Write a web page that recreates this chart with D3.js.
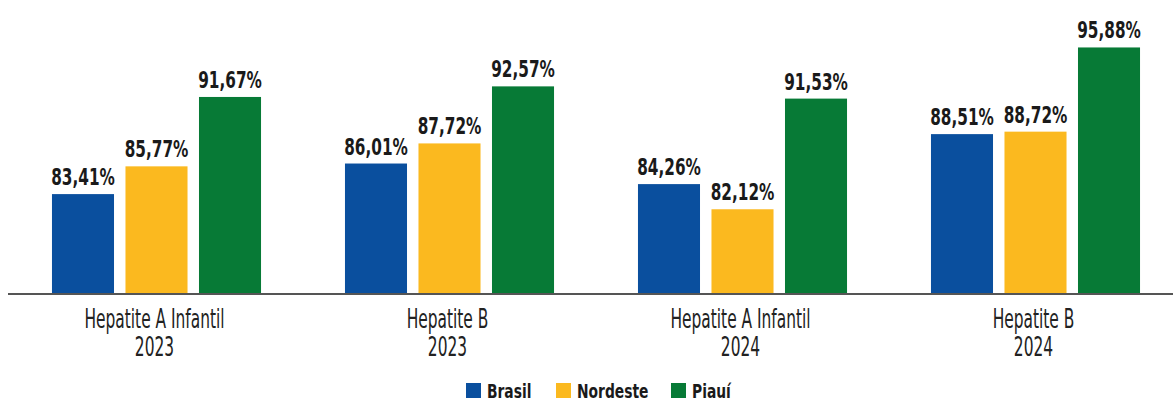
<!DOCTYPE html>
<html lang="pt">
  <head>
    <meta charset="UTF-8" />
    <title>Cobertura vacinal - Hepatites</title>
    <style>
      body {
        margin: 0;
        background: #fff;
      }
      svg {
        font-family: 'DejaVu Sans Condensed', 'DejaVu Sans', sans-serif;
        font-stretch: condensed;
      }
      .value {
        font-size: 23px;
        font-weight: bold;
        fill: #1a1a1a;
      }
      .cat {
        font-size: 26px;
        fill: #222;
      }
      .legend text {
        font-size: 20px;
        font-weight: bold;
        fill: #1a1a1a;
      }
    </style>
  </head>
  <body>
    <svg width="1173" height="403"></svg>
    <script src="https://d3js.org/d3.v7.min.js"></script>
    <script>
      const groups = ['Hepatite A Infantil|2023', 'Hepatite B|2023', 'Hepatite A Infantil|2024', 'Hepatite B|2024'];
      const series = ['Brasil', 'Nordeste', 'Piauí'];
      const brasil = [83.41, 86.01, 84.26, 88.51];
      const nordeste = [85.77, 87.72, 82.12, 88.72];
      const piaui = [91.67, 92.57, 91.53, 95.88];
      const colors = ['#0a4f9e', '#fbb91f', '#077a36'];

      const values = [brasil, nordeste, piaui];
      const rows = [];
      groups.forEach((g, gi) => {
        series.forEach((s, si) => rows.push({ group: g, key: s, value: values[si][gi] }));
      });

      const svg = d3.select('svg');
      const baseY = 293;

      const x0 = d3.scaleBand().domain(groups).range([10, 1182]);
      const x1 = d3
        .scaleBand()
        .domain(series)
        .range([0, x0.bandwidth()])
        .paddingInner(0.156)
        .paddingOuter(0.571);
      const y = d3.scaleLinear().domain([75, 100]).range([baseY, -1]);
      const color = d3.scaleOrdinal().domain(series).range(colors);
      const fmt = (v) => v.toFixed(2).replace('.', ',') + '%';

      // squeeze a text horizontally to imitate the narrow typeface
      const squeeze = (sx) => (x, y) => `translate(${x},${y}) scale(${sx},1)`;

      const bar = svg
        .append('g')
        .selectAll('g')
        .data(rows)
        .enter()
        .append('g')
        .attr('transform', (d) => `translate(${x0(d.group) + x1(d.key)},0)`);

      bar
        .append('rect')
        .attr('y', (d) => y(d.value))
        .attr('width', x1.bandwidth())
        .attr('height', (d) => baseY - y(d.value))
        .attr('fill', (d) => color(d.key));

      bar
        .append('text')
        .attr('class', 'value')
        .attr('text-anchor', 'middle')
        .attr('transform', (d) => squeeze(0.74)(x1.bandwidth() / 2, y(d.value) - 9))
        .text((d) => fmt(d.value));

      // baseline
      svg
        .append('line')
        .attr('x1', 8)
        .attr('x2', 1173)
        .attr('y1', baseY + 1)
        .attr('y2', baseY + 1)
        .attr('stroke', '#555')
        .attr('stroke-width', 2);

      // category labels (two lines)
      const cat = svg
        .append('g')
        .selectAll('g')
        .data(groups)
        .enter()
        .append('g')
        .attr('transform', (d) => `translate(${x0(d) + x0.bandwidth() / 2 - 2},0)`);
      cat
        .selectAll('text')
        .data((d) => d.split('|'))
        .enter()
        .append('text')
        .attr('class', 'cat')
        .attr('text-anchor', 'middle')
        .attr('transform', (d, i) => squeeze(0.66)(0, 328 + i * 28))
        .text((d) => d);

      // legend
      const legendX = [466, 556, 671];
      const legend = svg
        .append('g')
        .attr('class', 'legend')
        .selectAll('g')
        .data(series)
        .enter()
        .append('g')
        .attr('transform', (d, i) => `translate(${legendX[i]},383)`);
      legend
        .append('rect')
        .attr('width', 15)
        .attr('height', 15)
        .attr('fill', (d) => color(d));
      legend
        .append('text')
        .attr('transform', squeeze(0.77)(21, 15))
        .text((d) => d);
    </script>
  </body>
</html>
